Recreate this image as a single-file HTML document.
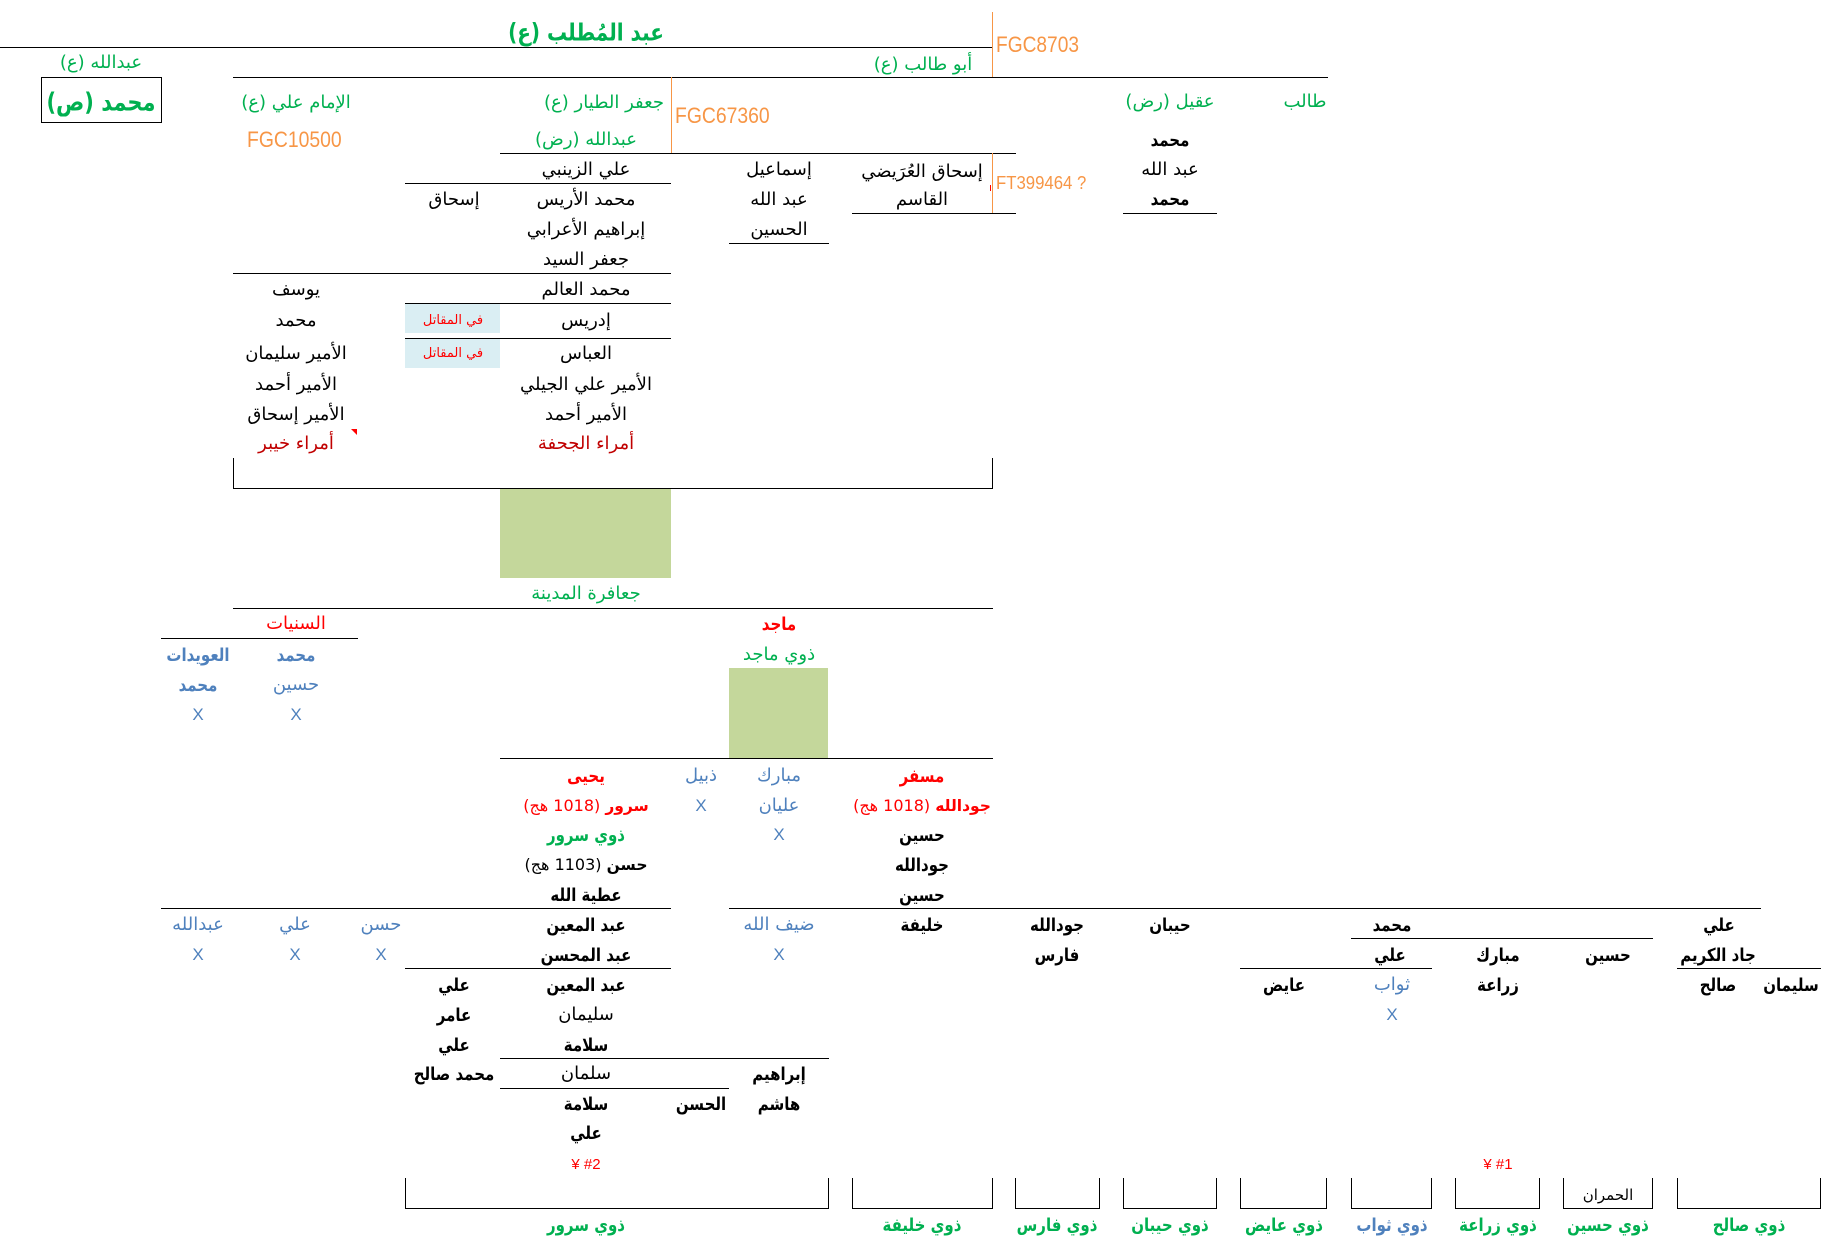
<!DOCTYPE html>
<html><head><meta charset="utf-8"><style>
html,body{margin:0;padding:0;background:#fff;}
body{width:1841px;height:1246px;position:relative;overflow:hidden;font-family:"DejaVu Sans",sans-serif;}
.c{position:absolute;width:300px;margin-left:-150px;height:30px;line-height:30px;text-align:center;direction:rtl;white-space:nowrap;font-size:18px;color:#000;}
.g{color:#00B050}.r{color:#FF0000}.dr{color:#C00000}.b{color:#4F81BD}.o{color:#F79646}
.bo{font-weight:bold;font-size:15px;transform:scaleY(1.2)}
.c b{font-size:15.5px}
.h{position:absolute;height:1px;background:#000}
.v{position:absolute;width:1px;background:#F79646}
.f{position:absolute;height:30px;line-height:30px;font-family:"Liberation Sans",sans-serif;color:#F79646;white-space:nowrap;transform-origin:left center;direction:ltr}
.br{position:absolute;top:1178px;height:31px;box-sizing:border-box;border:1px solid #000;border-top:none}
.fill{position:absolute}
.x{font-family:"Liberation Sans",sans-serif;font-size:17px}
</style></head><body>

<!-- lines -->
<div class="h" style="left:0;top:47px;width:993px"></div>
<div class="h" style="left:233px;top:77px;width:1095px"></div>
<div class="h" style="left:500px;top:153px;width:516px"></div>
<div class="h" style="left:405px;top:183px;width:266px"></div>
<div class="h" style="left:852px;top:213px;width:164px"></div>
<div class="h" style="left:1123px;top:213px;width:94px"></div>
<div class="h" style="left:729px;top:243px;width:100px"></div>
<div class="h" style="left:233px;top:273px;width:438px"></div>
<div class="h" style="left:405px;top:303px;width:266px"></div>
<div class="h" style="left:405px;top:338px;width:266px"></div>
<div class="h" style="left:233px;top:488px;width:760px"></div>
<div class="h" style="left:233px;top:458px;width:1px;height:30px"></div>
<div class="h" style="left:992px;top:458px;width:1px;height:30px"></div>
<div class="h" style="left:233px;top:608px;width:760px"></div>
<div class="h" style="left:161px;top:638px;width:197px"></div>
<div class="h" style="left:500px;top:758px;width:493px"></div>
<div class="h" style="left:161px;top:908px;width:510px"></div>
<div class="h" style="left:729px;top:908px;width:1032px"></div>
<div class="h" style="left:1351px;top:938px;width:302px"></div>
<div class="h" style="left:405px;top:968px;width:266px"></div>
<div class="h" style="left:1240px;top:968px;width:192px"></div>
<div class="h" style="left:1677px;top:968px;width:144px"></div>
<div class="h" style="left:500px;top:1058px;width:329px"></div>
<div class="h" style="left:500px;top:1088px;width:229px"></div>

<!-- orange verticals -->
<div class="v" style="left:992px;top:12px;height:65px"></div>
<div class="v" style="left:671px;top:77px;height:76px"></div>
<div class="v" style="left:992px;top:153px;height:60px"></div>
<div class="fill" style="left:990px;top:185px;width:1px;height:6px;background:#f00"></div>

<!-- fills -->
<div class="fill" style="left:500px;top:489px;width:171px;height:89px;background:#C4D79B"></div>
<div class="fill" style="left:729px;top:668px;width:99px;height:90px;background:#C4D79B"></div>
<div class="fill" style="left:405px;top:304px;width:95px;height:29px;background:#DAEEF3"></div>
<div class="fill" style="left:405px;top:339px;width:95px;height:29px;background:#DAEEF3"></div>
<div class="fill" style="left:351px;top:429px;width:0;height:0;border-top:6px solid #f00;border-left:6px solid transparent"></div>

<!-- brackets -->
<div class="br" style="left:405px;width:424px"></div>
<div class="br" style="left:852px;width:141px"></div>
<div class="br" style="left:1015px;width:85px"></div>
<div class="br" style="left:1123px;width:94px"></div>
<div class="br" style="left:1240px;width:87px"></div>
<div class="br" style="left:1351px;width:81px"></div>
<div class="br" style="left:1455px;width:85px"></div>
<div class="br" style="left:1563px;width:90px"></div>
<div class="br" style="left:1677px;width:144px"></div>

<!-- box محمد -->
<div style="position:absolute;left:41px;top:77px;width:121px;height:46px;box-sizing:border-box;border:1px solid #000"></div>

<!-- FGC labels -->
<div class="f" style="left:996px;top:30px;font-size:22px;transform:scaleX(0.87)">FGC8703</div>
<div class="f" style="left:675px;top:101px;font-size:22px;transform:scaleX(0.88)">FGC67360</div>
<div class="f" style="left:247px;top:125px;font-size:22px;transform:scaleX(0.88)">FGC10500</div>
<div class="f" style="left:996px;top:168px;font-size:18px;transform:scaleX(0.93)">FT399464 ?</div>

<!-- texts -->
<div class="c g bo" style="left:586px;top:17px;font-size:20px">عبد المُطلب (ع)</div>
<div class="c g" style="left:101px;top:48px">عبدالله (ع)</div>
<div class="c g" style="left:923px;top:50px">أبو طالب (ع)</div>
<div class="c g bo" style="left:101px;top:87px;font-size:21px">محمد (ص)</div>
<div class="c g" style="left:296px;top:88px">الإمام علي (ع)</div>
<div class="c g" style="left:604px;top:88px">جعفر الطيار (ع)</div>
<div class="c g" style="left:1170px;top:87px">عقيل (رض)</div>
<div class="c g" style="left:1305px;top:87px">طالب</div>
<div class="c g" style="left:586px;top:125px">عبدالله (رض)</div>
<div class="c bo" style="left:1170px;top:125px">محمد</div>

<div class="c" style="left:586px;top:155px">علي الزينبي</div>
<div class="c" style="left:779px;top:155px">إسماعيل</div>
<div class="c" style="left:922px;top:157px">إسحاق العُرَيضي</div>
<div class="c" style="left:1170px;top:155px">عبد الله</div>

<div class="c" style="left:454px;top:185px">إسحاق</div>
<div class="c" style="left:586px;top:185px">محمد الأريس</div>
<div class="c" style="left:779px;top:185px">عبد الله</div>
<div class="c" style="left:922px;top:185px">القاسم</div>
<div class="c bo" style="left:1170px;top:184px">محمد</div>

<div class="c" style="left:586px;top:215px">إبراهيم الأعرابي</div>
<div class="c" style="left:779px;top:215px">الحسين</div>
<div class="c" style="left:586px;top:245px">جعفر السيد</div>

<div class="c" style="left:296px;top:275px">يوسف</div>
<div class="c" style="left:586px;top:275px">محمد العالم</div>
<div class="c" style="left:296px;top:306px">محمد</div>
<div class="c r" style="left:453px;top:306px;font-size:13px">في المقاتل</div>
<div class="c" style="left:586px;top:306px">إدريس</div>
<div class="c" style="left:296px;top:339px">الأمير سليمان</div>
<div class="c r" style="left:453px;top:339px;font-size:13px">في المقاتل</div>
<div class="c" style="left:586px;top:339px">العباس</div>
<div class="c" style="left:296px;top:370px">الأمير أحمد</div>
<div class="c" style="left:586px;top:370px">الأمير علي  الجيلي</div>
<div class="c" style="left:296px;top:400px">الأمير إسحاق</div>
<div class="c" style="left:586px;top:400px">الأمير أحمد</div>
<div class="c dr" style="left:296px;top:429px">أمراء خيبر</div>
<div class="c dr" style="left:586px;top:429px">أمراء الجحفة</div>

<div class="c g" style="left:586px;top:579px">جعافرة المدينة</div>
<div class="c r" style="left:296px;top:609px">السنيات</div>
<div class="c r bo" style="left:779px;top:609px">ماجد</div>
<div class="c b bo" style="left:198px;top:640px">العويدات</div>
<div class="c b bo" style="left:296px;top:640px">محمد</div>
<div class="c g" style="left:779px;top:640px">ذوي ماجد</div>
<div class="c b bo" style="left:198px;top:670px">محمد</div>
<div class="c b" style="left:296px;top:670px">حسين</div>
<div class="c b x" style="left:198px;top:700px">X</div>
<div class="c b x" style="left:296px;top:700px">X</div>

<div class="c r bo" style="left:586px;top:761px">يحيى</div>
<div class="c b" style="left:701px;top:761px">ذبيل</div>
<div class="c b" style="left:779px;top:761px">مبارك</div>
<div class="c r bo" style="left:922px;top:761px">مسفر</div>

<div class="c r" style="left:586px;top:791px;font-size:16px"><b>سرور</b> (1018 هج)</div>
<div class="c b x" style="left:701px;top:791px">X</div>
<div class="c b" style="left:779px;top:791px">عليان</div>
<div class="c r" style="left:922px;top:791px;font-size:16px"><b>جودالله</b> (1018 هج)</div>

<div class="c g bo" style="left:586px;top:820px">ذوي سرور</div>
<div class="c b x" style="left:779px;top:820px">X</div>
<div class="c bo" style="left:922px;top:820px">حسين</div>

<div class="c" style="left:586px;top:850px;font-size:16px"><b>حسن</b> (1103 هج)</div>
<div class="c bo" style="left:922px;top:850px">جودالله</div>
<div class="c bo" style="left:586px;top:880px">عطية الله</div>
<div class="c bo" style="left:922px;top:880px">حسين</div>

<div class="c b" style="left:198px;top:910px">عبدالله</div>
<div class="c b" style="left:295px;top:910px">علي</div>
<div class="c b" style="left:381px;top:910px">حسن</div>
<div class="c bo" style="left:586px;top:910px">عبد المعين</div>
<div class="c b" style="left:779px;top:910px">ضيف الله</div>
<div class="c bo" style="left:922px;top:910px">خليفة</div>
<div class="c bo" style="left:1057px;top:910px">جودالله</div>
<div class="c bo" style="left:1170px;top:910px">حيبان</div>
<div class="c bo" style="left:1392px;top:910px">محمد</div>
<div class="c bo" style="left:1719px;top:910px">علي</div>

<div class="c b x" style="left:198px;top:940px">X</div>
<div class="c b x" style="left:295px;top:940px">X</div>
<div class="c b x" style="left:381px;top:940px">X</div>
<div class="c bo" style="left:586px;top:940px">عبد المحسن</div>
<div class="c b x" style="left:779px;top:940px">X</div>
<div class="c bo" style="left:1057px;top:940px">فارس</div>
<div class="c bo" style="left:1390px;top:940px">علي</div>
<div class="c bo" style="left:1498px;top:940px">مبارك</div>
<div class="c bo" style="left:1608px;top:940px">حسين</div>
<div class="c bo" style="left:1718px;top:940px">جاد الكريم</div>

<div class="c bo" style="left:454px;top:970px">علي</div>
<div class="c bo" style="left:586px;top:970px">عبد المعين</div>
<div class="c bo" style="left:1284px;top:970px">عايض</div>
<div class="c b" style="left:1392px;top:970px">ثواب</div>
<div class="c bo" style="left:1498px;top:970px">زراعة</div>
<div class="c bo" style="left:1718px;top:970px">صالح</div>
<div class="c bo" style="left:1791px;top:970px">سليمان</div>

<div class="c bo" style="left:454px;top:1000px">عامر</div>
<div class="c" style="left:586px;top:1000px">سليمان</div>
<div class="c b x" style="left:1392px;top:1000px">X</div>

<div class="c bo" style="left:454px;top:1030px">علي</div>
<div class="c bo" style="left:586px;top:1030px">سلامة</div>

<div class="c bo" style="left:454px;top:1059px">محمد صالح</div>
<div class="c" style="left:586px;top:1059px">سلمان</div>
<div class="c bo" style="left:779px;top:1059px">إبراهيم</div>

<div class="c bo" style="left:586px;top:1089px">سلامة</div>
<div class="c bo" style="left:701px;top:1089px">الحسن</div>
<div class="c bo" style="left:779px;top:1089px">هاشم</div>

<div class="c bo" style="left:586px;top:1118px">علي</div>

<div class="c r" style="left:586px;top:1150px;direction:ltr;font-family:'Liberation Sans',sans-serif;font-size:15px">¥ #2</div>
<div class="c r" style="left:1498px;top:1150px;direction:ltr;font-family:'Liberation Sans',sans-serif;font-size:15px">¥ #1</div>

<div class="c" style="left:1608px;top:1180px;font-size:15px">الحمران</div>

<div class="c g bo" style="left:586px;top:1210px">ذوي سرور</div>
<div class="c g bo" style="left:922px;top:1210px">ذوي خليفة</div>
<div class="c g bo" style="left:1057px;top:1210px">ذوي فارس</div>
<div class="c g bo" style="left:1170px;top:1210px">ذوي حيبان</div>
<div class="c g bo" style="left:1284px;top:1210px">ذوي عايض</div>
<div class="c b bo" style="left:1392px;top:1210px">ذوي ثواب</div>
<div class="c g bo" style="left:1498px;top:1210px">ذوي زراعة</div>
<div class="c g bo" style="left:1608px;top:1210px">ذوي حسين</div>
<div class="c g bo" style="left:1749px;top:1210px">ذوي صالح</div>

</body></html>
